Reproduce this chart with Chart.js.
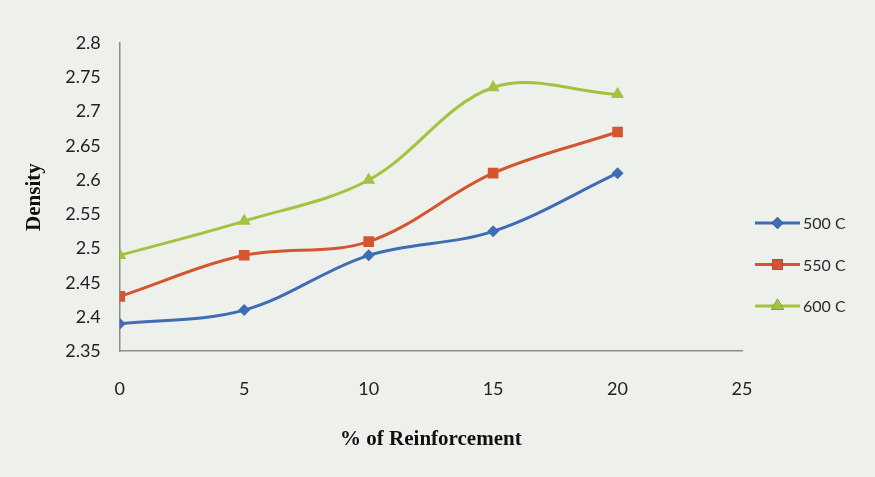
<!DOCTYPE html>
<html>
<head>
<meta charset="utf-8">
<script src="https://cdn.jsdelivr.net/npm/chart.js@4/dist/chart.umd.min.js"></script>
<style>
  html, body { margin: 0; padding: 0; background: #eef0ec; }
  #wrap { width: 875px; height: 477px; position: relative; }
</style>
</head>
<body>
<div id="wrap"><canvas id="c" width="875" height="477"></canvas></div>
<script>
const reinforcement = [0, 5, 10, 15, 20];
const density500 = [2.39, 2.41, 2.49, 2.525, 2.61];
const density550 = [2.43, 2.49, 2.51, 2.61, 2.67];
const density600 = [2.49, 2.54, 2.60, 2.735, 2.725];
const seriesNames = ['500 C', '550 C', '600 C'];
const xTicks = [0, 5, 10, 15, 20, 25];
const yTicks = [2.35, 2.4, 2.45, 2.5, 2.55, 2.6, 2.65, 2.7, 2.75, 2.8];

const colors = ['#3e6db3', '#d4552f', '#a3c23e'];
const shapes = ['rectRot', 'rect', 'triangle'];
const radii = [6, 7.5, 7.5];

function pts(vals) { return reinforcement.map((x, i) => ({ x: x, y: vals[i] })); }
const allSeries = [density500, density550, density600];

const datasets = allSeries.map((vals, i) => ({
  label: seriesNames[i],
  data: pts(vals),
  showLine: true,
  borderColor: colors[i],
  backgroundColor: colors[i],
  borderWidth: 3,
  tension: 0.35,
  pointStyle: shapes[i],
  pointRadius: radii[i],
  pointHoverRadius: radii[i],
  pointBorderWidth: 0
}));

const legendPlugin = {
  id: 'customLegend',
  afterDraw(chart) {
    const ctx = chart.ctx;
    const ca = chart.chartArea;
    const x0 = ca.right + 13;
    chart.data.datasets.forEach((ds, i) => {
      const y = ca.top + 180 + i * 41.5;
      ctx.save();
      ctx.strokeStyle = ds.borderColor;
      ctx.lineWidth = 3;
      ctx.beginPath();
      ctx.moveTo(x0, y);
      ctx.lineTo(x0 + 45, y);
      ctx.stroke();
      Chart.helpers.drawPoint(ctx, {
        pointStyle: ds.pointStyle,
        radius: ds.pointRadius,
        rotation: 0,
        borderWidth: 0
      }, x0 + 22.5, y);
      ctx.fillStyle = ds.backgroundColor;
      ctx.fill();
      ctx.fillStyle = '#2b2b2b';
      ctx.font = '16px Lato';
      ctx.textBaseline = 'middle';
      ctx.textAlign = 'left';
      ctx.fillText(ds.label, x0 + 48, y + 1);
      ctx.restore();
    });
  }
};

new Chart(document.getElementById('c'), {
  type: 'scatter',
  data: { datasets: datasets },
  options: {
    responsive: false,
    animation: false,
    devicePixelRatio: 1,
    layout: { padding: { left: 22, right: 133, top: 43, bottom: 25 } },
    plugins: {
      legend: { display: false },
      tooltip: { enabled: false }
    },
    scales: {
      x: {
        type: 'linear',
        min: 0, max: 25,
        afterBuildTicks: (axis) => { axis.ticks = xTicks.map(v => ({ value: v })); },
        ticks: { color: '#222', font: { family: 'Lato', size: 18 }, padding: 19 },
        grid: { display: false },
        border: { display: true, color: '#8c8c8c', width: 1.5 },
        title: {
          display: true, text: '% of Reinforcement', color: '#111',
          font: { family: 'Liberation Serif', size: 21, weight: 'bold' },
          padding: { top: 8, bottom: 0 }
        }
      },
      y: {
        min: 2.35, max: 2.8,
        afterBuildTicks: (axis) => { axis.ticks = yTicks.map(v => ({ value: v })); },
        ticks: {
          color: '#222', font: { family: 'Lato', size: 18 }, padding: 11,
          callback: (v) => String(+Number(v).toFixed(2))
        },
        grid: { display: false },
        border: { display: true, color: '#8c8c8c', width: 1.5 },
        title: {
          display: true, text: 'Density', color: '#111',
          font: { family: 'Liberation Serif', size: 21, weight: 'bold' },
          padding: { top: 0, bottom: 7 }
        }
      }
    }
  },
  plugins: [legendPlugin]
});
</script>
</body>
</html>
